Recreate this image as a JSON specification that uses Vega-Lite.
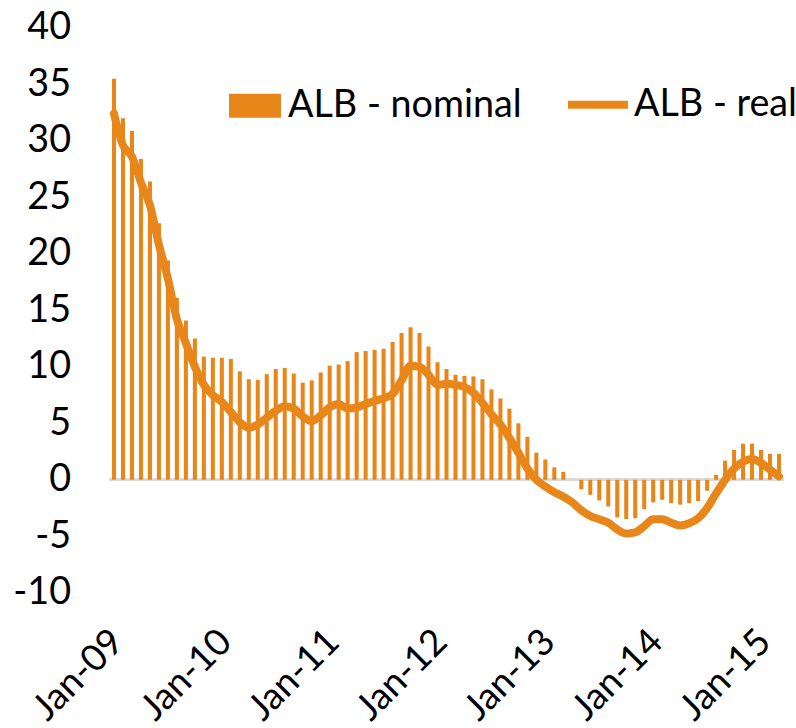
{
  "$schema": "https://vega.github.io/schema/vega-lite/v6.json",
  "width": 674,
  "height": 565,
  "autosize": {"type": "none"},
  "padding": {"left": 109.5, "top": 27.8, "right": 12.5, "bottom": 135.2},
  "config": {"view": {"stroke": null}, "font": "Lato"},
  "data": {"values": [
    {"m":"Jan-09","nominal":35.5,"real":32.4},{"m":"Feb-09","nominal":32.0,"real":29.6},{"m":"Mar-09","nominal":30.9,"real":28.6},{"m":"Apr-09","nominal":28.4,"real":26.3},{"m":"May-09","nominal":26.4,"real":24.3},{"m":"Jun-09","nominal":22.7,"real":20.8},{"m":"Jul-09","nominal":19.4,"real":17.8},{"m":"Aug-09","nominal":16.1,"real":14.2},{"m":"Sep-09","nominal":14.1,"real":12.1},{"m":"Oct-09","nominal":12.5,"real":10.0},{"m":"Nov-09","nominal":10.9,"real":8.4},{"m":"Dec-09","nominal":10.8,"real":7.5},
    {"m":"Jan-10","nominal":10.8,"real":6.9},{"m":"Feb-10","nominal":10.7,"real":6.0},{"m":"Mar-10","nominal":9.6,"real":5.1},{"m":"Apr-10","nominal":8.9,"real":4.6},{"m":"May-10","nominal":8.85,"real":4.9},{"m":"Jun-10","nominal":9.35,"real":5.5},{"m":"Jul-10","nominal":9.8,"real":6.1},{"m":"Aug-10","nominal":9.9,"real":6.5},{"m":"Sep-10","nominal":9.4,"real":6.3},{"m":"Oct-10","nominal":8.6,"real":5.6},{"m":"Nov-10","nominal":8.8,"real":5.2},{"m":"Dec-10","nominal":9.5,"real":5.7},
    {"m":"Jan-11","nominal":10.1,"real":6.4},{"m":"Feb-11","nominal":10.2,"real":6.7},{"m":"Mar-11","nominal":10.5,"real":6.3},{"m":"Apr-11","nominal":11.3,"real":6.4},{"m":"May-11","nominal":11.4,"real":6.7},{"m":"Jun-11","nominal":11.5,"real":7.0},{"m":"Jul-11","nominal":11.6,"real":7.2},{"m":"Aug-11","nominal":12.2,"real":7.6},{"m":"Sep-11","nominal":13.0,"real":8.8},{"m":"Oct-11","nominal":13.5,"real":10.1},{"m":"Nov-11","nominal":13.0,"real":10.0},{"m":"Dec-11","nominal":11.8,"real":9.3},
    {"m":"Jan-12","nominal":10.4,"real":8.4},{"m":"Feb-12","nominal":9.8,"real":8.5},{"m":"Mar-12","nominal":9.3,"real":8.4},{"m":"Apr-12","nominal":9.2,"real":8.2},{"m":"May-12","nominal":9.15,"real":7.7},{"m":"Jun-12","nominal":8.9,"real":6.8},{"m":"Jul-12","nominal":8.0,"real":5.8},{"m":"Aug-12","nominal":7.2,"real":4.9},{"m":"Sep-12","nominal":6.3,"real":3.7},{"m":"Oct-12","nominal":5.0,"real":2.4},{"m":"Nov-12","nominal":3.8,"real":1.0},{"m":"Dec-12","nominal":2.4,"real":0.0},
    {"m":"Jan-13","nominal":1.8,"real":-0.6},{"m":"Feb-13","nominal":1.1,"real":-1.1},{"m":"Mar-13","nominal":0.7,"real":-1.5},{"m":"Apr-13","nominal":0.0,"real":-2.0},{"m":"May-13","nominal":-0.83,"real":-2.7},{"m":"Jun-13","nominal":-1.33,"real":-3.2},{"m":"Jul-13","nominal":-1.83,"real":-3.5},{"m":"Aug-13","nominal":-2.36,"real":-3.8},{"m":"Sep-13","nominal":-3.33,"real":-4.4},{"m":"Oct-13","nominal":-3.48,"real":-4.75},{"m":"Nov-13","nominal":-3.4,"real":-4.65},{"m":"Dec-13","nominal":-2.6,"real":-4.1},
    {"m":"Jan-14","nominal":-2.0,"real":-3.5},{"m":"Feb-14","nominal":-1.77,"real":-3.5},{"m":"Mar-14","nominal":-2.07,"real":-3.8},{"m":"Apr-14","nominal":-2.2,"real":-4.05},{"m":"May-14","nominal":-2.07,"real":-3.85},{"m":"Jun-14","nominal":-1.9,"real":-3.4},{"m":"Jul-14","nominal":-0.97,"real":-2.5},{"m":"Aug-14","nominal":0.44,"real":-1.2},{"m":"Sep-14","nominal":1.7,"real":0.0},{"m":"Oct-14","nominal":2.65,"real":1.0},{"m":"Nov-14","nominal":3.2,"real":1.6},{"m":"Dec-14","nominal":3.2,"real":1.85},
    {"m":"Jan-15","nominal":2.65,"real":1.5},{"m":"Feb-15","nominal":2.3,"real":0.9},{"m":"Mar-15","nominal":2.3,"real":0.3}
  ]},
  "encoding": {
    "x": {"field": "m", "type": "ordinal", "sort": null,
      "scale": {"paddingInner": 0.55},
      "axis": {"values": ["Jan-09","Jan-10","Jan-11","Jan-12","Jan-13","Jan-14","Jan-15"],
        "labelAngle": -45, "labelAlign": "right", "labelBaseline": "middle",
        "domain": false, "ticks": false, "labelPadding": 43, "labelOffset": 4, "title": null,
        "labelFontSize": 37, "labelColor": "#000000", "labelOverlap": false, "labelFont": "Lato", "labelBound": false}}
  },
  "layer": [
    {"mark": {"type": "rule", "color": "#d9d9d9", "strokeWidth": 2},
     "encoding": {"y": {"datum": 0, "type": "quantitative"}, "x": null}},
    {"mark": {"type": "bar"},
     "encoding": {
       "y": {"field": "nominal", "type": "quantitative",
         "scale": {"domain": [-10, 40], "nice": false},
         "axis": {"values": [-10,-5,0,5,10,15,20,25,30,35,40], "grid": false, "domain": false, "ticks": false,
           "labelExpr": "toString(datum.value)",
           "labelFontSize": 37.7, "labelColor": "#000000", "labelPadding": 39, "title": null, "labelFont": "Lato"}},
       "color": {"datum": "ALB - nominal", "type": "nominal",
         "scale": {"range": ["#E8861A"]},
         "legend": {"orient": "none", "legendX": 119.5, "legendY": 52, "title": null,
           "symbolType": "M-1,-0.46H1V0.46H-1Z", "symbolSize": 2704, "symbolStrokeWidth": 0,
           "labelFont": "Lato", "labelFontSize": 37.7, "labelColor": "#000000", "labelOffset": 7, "labelLimit": 500, "padding": 0}}
     }},
    {"mark": {"type": "line", "strokeWidth": 8, "strokeCap": "round", "strokeJoin": "round", "interpolate": "monotone"},
     "encoding": {
       "y": {"field": "real", "type": "quantitative"},
       "stroke": {"datum": "ALB - real", "type": "nominal",
         "scale": {"range": ["#E8861A"]},
         "legend": {"orient": "none", "legendX": 454.5, "legendY": 43, "title": null,
           "symbolType": "stroke", "symbolSize": 3600, "symbolStrokeWidth": 8,
           "labelFont": "Lato", "labelFontSize": 37.7, "labelColor": "#000000", "labelOffset": 2, "labelLimit": 500, "padding": 0}}
     }}
  ]
}
